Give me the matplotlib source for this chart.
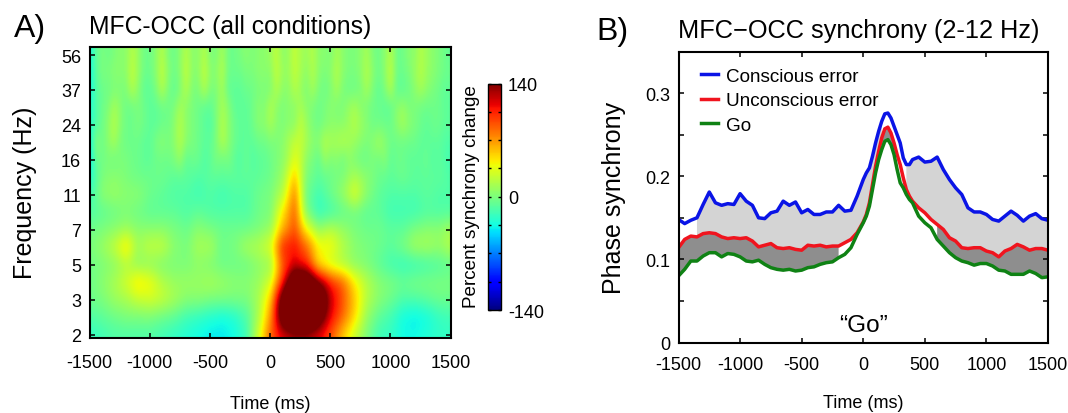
import numpy as np
from matplotlib import pyplot as plt

plt.rcParams['font.family'] = ['Liberation Sans', 'DejaVu Sans']
plt.rcParams['axes.unicode_minus'] = False

W, H = 1068, 414

# panel A: percent synchrony change, one row per half tick of the frequency axis, every 100 ms
freq_ticks = [2, 3, 5, 7, 11, 16, 24, 37, 56]
time_ticks = [-1500, -1000, -500, 0, 500, 1000, 1500]
heat_rows = [
    [-25, -20, -15, -15, -15, -15, -20, -25, -30, -35, -40, -40, -35, -20, 30, 85, 115, 125, 125, 115, 90, 55, 25, 0, -20, -25, -35, -35, -30, -25, -25],
    [-15, -10, -5, 0, 0, 0, -5, -10, -20, -25, -30, -35, -30, -15, 15, 70, 170, 220, 220, 170, 115, 85, 50, 10, -10, -20, -35, -40, -35, -25, -20],
    [-5, 0, 10, 15, 25, 30, 25, 15, 5, 5, 0, 0, 0, 0, 15, 55, 165, 240, 240, 200, 125, 90, 55, 20, 5, -5, -15, -15, -10, -5, -5],
    [-5, 5, 15, 30, 50, 40, 20, 10, 10, 10, 15, 10, 5, 5, 10, 30, 100, 190, 190, 140, 105, 85, 45, 20, 5, 0, -5, 0, 0, 0, 0],
    [-5, 0, 5, 15, 5, 5, 0, 0, 0, 5, 0, -5, -5, -5, 5, 10, 85, 115, 100, 45, 25, 15, 5, 0, -10, -20, -25, -25, -20, -15, -10],
    [0, 10, 25, 50, 15, 25, 25, 5, 0, 15, 15, -5, 0, 15, 20, 35, 105, 110, 85, 45, 42, 20, 5, 0, -5, -10, 0, 15, 15, 10, 20],
    [-5, 0, 5, 10, 5, 5, 5, 0, -5, 5, 0, -5, -5, -5, 0, 10, 60, 90, 40, 10, 20, 10, 0, -5, -5, -10, -10, 0, 5, 5, 15],
    [-15, -10, -5, 0, -5, -10, -10, -10, -15, -10, -15, -15, -15, -15, -5, 0, 45, 85, 0, -25, -20, -10, -5, -10, -10, -20, -20, -20, -15, -15, -15],
    [-20, 5, 10, 5, 5, -5, -10, -15, -15, -20, -15, -20, -15, -15, -5, 0, 20, 75, -5, -20, -5, 10, 35, 5, -10, -15, -15, -15, -10, -15, -15],
    [-30, 0, 5, 0, -5, -5, -5, -10, -10, -15, -10, -10, -10, -10, -10, -5, 10, 55, 0, -10, -5, 0, 15, 5, -5, -10, -5, -10, -10, -10, -15],
    [-40, -5, -5, 0, -5, -10, -5, 0, -10, -5, -10, -5, -10, -5, -10, -5, 5, 35, 5, -10, 0, -5, 0, -5, -5, -10, -5, -10, -5, -10, -20],
    [-35, -5, 15, -5, -5, -10, 5, 5, 5, -5, -10, 20, -5, -10, -5, 0, 5, 25, 15, 5, 15, 20, 10, 0, 15, -5, -5, -5, -10, -10, -15],
    [-30, -5, 20, -5, 0, -10, -5, 5, 5, -5, -15, 20, -5, -10, 5, 15, 0, 5, 10, -5, 5, 5, 20, 5, -5, -5, 15, 0, -10, -5, -10],
    [-30, -5, 15, -5, 0, -10, -5, 0, 5, -5, -10, 15, -10, -10, 5, 20, 0, 5, 5, -5, 5, 0, 15, 0, -5, -10, 10, 0, -5, -5, -10],
    [-35, -5, 0, 0, 5, -10, 20, -10, 20, 0, 0, 15, -10, -5, 0, 0, 5, 20, 0, 0, 0, 0, -5, 15, -10, 20, -10, 5, 5, -5, -10],
    [-35, 0, 5, 5, 10, -5, 25, -5, 25, 5, 5, 20, -5, 0, 5, 5, 10, 25, 5, 5, 5, 5, 0, 20, -5, 25, -5, 10, 10, 0, -5],
    [-35, 0, 0, 5, 10, -5, 20, -5, 20, 5, 0, 15, -5, 5, 5, 10, 5, 25, 10, 5, 0, 5, 0, 15, -5, 20, -5, 5, 10, 0, -10],
]
# in-between columns (t = -1450, -1350, ...) of the seven rows from 16 Hz up, where the streaks are thin
streak_rows = [
    [-5, 0, 0, -5, -10, -5, -5, 10, -5, -15, 0, 0, -15, -15, -10, 0, 15, 25, 0, 10, 5, 5, -5, 0, 5, -5, -10, -10, -15, -15],
    [5, 5, 0, -5, -10, 0, 0, 20, 0, -10, 0, 5, -10, -10, -5, 0, 15, 25, 5, 20, 15, 15, 5, 5, 5, -5, -5, -10, -10, -15],
    [-15, 5, 5, -5, -5, -10, -5, 20, 0, -10, 0, 5, -10, -5, 5, 5, 5, 25, 0, 0, 5, 10, 10, -5, -5, 5, 5, -5, -5, -10],
    [-15, 0, 5, -5, -5, -10, -5, 15, 0, -10, 0, 5, -10, -5, 0, 5, 5, 15, 0, 0, 0, 10, 5, -5, -10, 5, 0, -5, -5, -10],
    [-15, -5, 0, 20, -10, 0, 0, 0, 0, 20, 0, -10, -10, -5, 0, 20, 5, 10, 15, -5, 15, -5, 0, 0, 0, -10, -5, 15, 0, -10],
    [-10, 0, 5, 25, -5, 5, 5, 5, 5, 25, 5, -5, -5, 0, 5, 25, 10, 15, 20, 0, 20, 0, 5, 5, 5, -5, 0, 20, 5, -5],
    [-10, -5, 5, 20, -5, 5, 0, 5, 5, 20, 0, -5, 0, 0, 5, 25, 10, 15, 20, 5, 15, 0, 5, 0, 5, -5, 5, 20, 5, -5],
]

# panel B: phase synchrony, read every 50 ms and every 25 ms across the peak
time_ms = list(range(-1500, 0, 50)) + list(range(0, 400, 25)) + list(range(400, 1501, 50))
conscious = [.148, .143, .147, .150, .166, .181, .168, .165, .167, .166, .179, .170, .165, .150, .149, .156,
             .158, .170, .165, .169, .156, .160, .154, .154, .157, .157, .165, .158, .159, .176,
             .196, .204, .210, .224, .240, .254, .266, .275, .276, .270, .260, .250, .240, .222, .214, .214,
             .220, .223, .217, .218, .223, .208, .196, .186, .178, .162,
             .157, .157, .154, .148, .146, .152, .158, .153, .146, .152, .155, .149, .147]
unconscious = [.114, .124, .128, .127, .131, .132, .131, .127, .125, .126, .125, .126, .122, .115, .117, .119,
               .114, .113, .114, .112, .111, .117, .116, .117, .115, .116, .116, .120, .124, .132,
               .145, .154, .168, .190, .212, .230, .246, .257, .259, .252, .240, .226, .214, .198, .184, .176,
               .170, .162, .156, .148, .142, .136, .126, .122, .114, .113,
               .114, .114, .110, .108, .103, .110, .113, .118, .115, .111, .113, .113, .111]
go = [.080, .088, .098, .098, .104, .108, .108, .103, .107, .106, .103, .098, .097, .099, .094, .090,
      .088, .087, .088, .086, .087, .090, .091, .094, .096, .097, .102, .106, .114, .130,
      .144, .152, .164, .184, .204, .220, .232, .242, .244, .238, .226, .208, .192, .186, .178, .172,
      .168, .152, .144, .138, .124, .116, .108, .102, .098, .096,
      .093, .095, .095, .092, .087, .086, .082, .082, .082, .086, .083, .078, .079]


def axes_px(fig, left, top, right, bottom):
    """Add axes from pixel edges, measured from the top left of the picture"""
    return fig.add_axes([left / W, 1 - bottom / H, (right - left) / W, (bottom - top) / H])


def box_ticks(ax, length=3.5):
    ax.tick_params(direction='in', top=True, right=True, length=length, width=1.1, labelsize=13, pad=6)
    for spine in ax.spines.values():
        spine.set_linewidth(1.5)


fig = plt.figure(figsize=(W / 100, H / 100), dpi=100)

# A) time-frequency map, the 100 ms columns with the in-between columns slotted in
coarse = np.array(heat_rows, dtype=float)
heat = np.zeros((coarse.shape[0], coarse.shape[1] * 2 - 1))
heat[:, ::2] = coarse
heat[:, 1::2] = (coarse[:, :-1] + coarse[:, 1:]) / 2
heat[10:, 1::2] = np.array(streak_rows)

ax1 = axes_px(fig, 89.5, 48, 450.5, 338.5)
im = ax1.imshow(heat, origin='lower', aspect='auto', cmap='jet', vmin=-140, vmax=140,
                interpolation='bicubic', extent=[-1525, 1525, -0.25, 8.25])
ax1.set_xlim(-1500, 1500)
ax1.set_ylim(-0.08, 8.23)
ax1.set_xticks(time_ticks)
ax1.set_yticks(range(len(freq_ticks)))
ax1.set_yticklabels(freq_ticks)
box_ticks(ax1)
ax1.tick_params(axis='x', pad=12)
ax1.set_xlabel('Time (ms)', fontsize=13, labelpad=17)
ax1.set_ylabel('Frequency (Hz)', fontsize=18, labelpad=17)
fig.text(89 / W, 1 - 27 / H, 'MFC-OCC (all conditions)', fontsize=17.8, va='center')
fig.text(14 / W, 1 - 29 / H, 'A)', fontsize=23, va='center')

cax = axes_px(fig, 487.5, 84.5, 501, 311)
cbar = fig.colorbar(im, cax=cax, ticks=[-140, -105, -70, -35, 0, 35, 70, 105, 140])
cbar.set_ticklabels(['-140', '', '', '', '0', '', '', '', '140'])
cax.tick_params(direction='in', left=True, right=True, length=2.5, width=1, labelsize=13, pad=5)
cbar.outline.set_linewidth(1)
fig.text(471 / W, 1 - 197 / H, 'Percent synchrony change', fontsize=13.6, rotation=90, ha='center', va='center')

# B) phase synchrony
ax2 = axes_px(fig, 678.5, 52.5, 1048, 343.5)
t = np.array(time_ms)
blue = np.array(conscious)
red = np.array(unconscious)
green = np.array(go)
ax2.fill_between(t, red, blue, where=((t >= -1350) & (t <= 150)) | (t >= 350), color='#d4d4d4', lw=0)
ax2.fill_between(t, green, red, where=(t <= -200) | ((t >= 150) & (t <= 250)) | (t >= 600), color='#8e8e8e', lw=0)
ax2.plot(t, blue, color='#0a14e6', lw=2.5, solid_joinstyle='round', label='Conscious error')
ax2.plot(t, red, color='#f0141e', lw=2.5, solid_joinstyle='round', label='Unconscious error')
ax2.plot(t, green, color='#0f8214', lw=2.5, solid_joinstyle='round', label='Go')
ax2.set_xlim(-1500, 1500)
ax2.set_ylim(0, 0.35)
ax2.set_xticks(time_ticks)
ax2.set_yticks([0, 0.05, 0.1, 0.15, 0.2, 0.25, 0.3])
ax2.set_yticklabels(['0', '', '0.1', '', '0.2', '', '0.3'])
box_ticks(ax2)
ax2.tick_params(axis='x', pad=10)
ax2.set_xlabel('Time (ms)', fontsize=13, labelpad=15)
ax2.set_ylabel('Phase synchrony', fontsize=18, labelpad=14)
ax2.legend(loc='upper left', frameon=False, fontsize=13.6, handlelength=0.9, handletextpad=0.45,
           labelspacing=0.38, borderaxespad=0, bbox_to_anchor=(0.04, 0.97))
ax2.text(0, 0.021, '\u201cGo\u201d', fontsize=17.5, ha='center', va='center')
fig.text(678 / W, 1 - 31 / H, 'MFC\u2212OCC synchrony (2-12 Hz)', fontsize=18.3, va='center')
fig.text(596 / W, 1 - 32 / H, 'B)', fontsize=23, va='center')

fig.savefig('out.png', dpi=100)
